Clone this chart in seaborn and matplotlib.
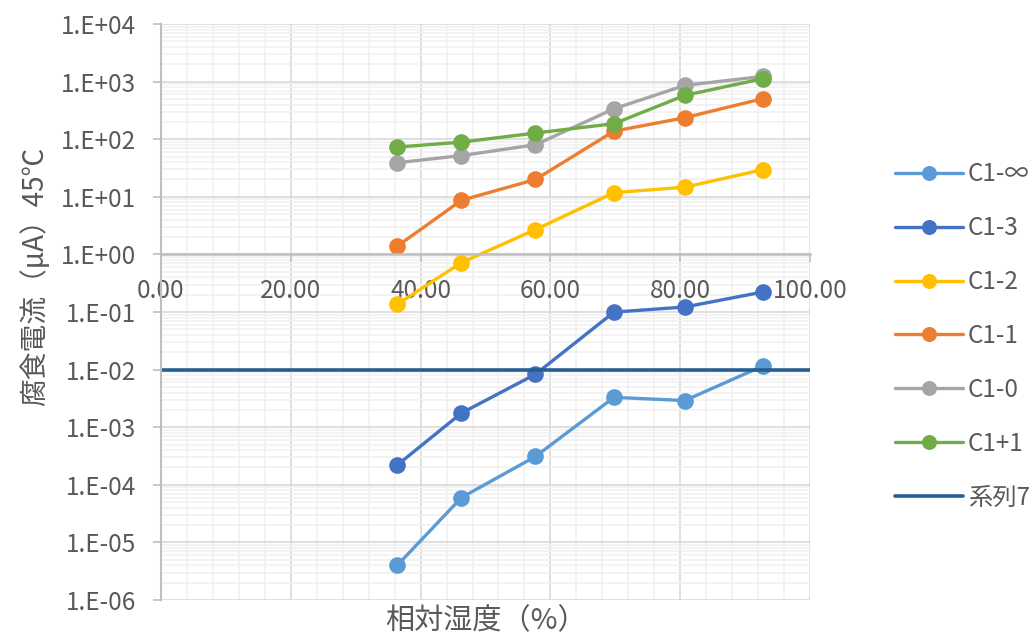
import numpy as np
import pandas as pd
import matplotlib
matplotlib.use("Agg")
import matplotlib.pyplot as plt
import matplotlib.ticker as mticker
import seaborn as sns

# Relative humidity (%) at each measurement
humidity = [36.4, 46.3, 57.7, 69.8, 80.7, 92.7]

# Corrosion current (uA) at 45 C for each sample
c1_inf = [4.0e-6, 6.0e-5, 3.1e-4, 3.3e-3, 2.9e-3, 1.15e-2]
c1_3 = [2.2e-4, 1.76e-3, 8.3e-3, 0.0996, 0.122, 0.222]
c1_2 = [0.136, 0.72, 2.7, 11.8, 14.7, 29.5]
c1_1 = [1.39, 8.7, 20.0, 138.0, 236.0, 505.0]
c1_0 = [39.0, 52.0, 80.0, 338.0, 859.0, 1230.0]
c1_p1 = [73.0, 89.0, 128.0, 186.0, 576.0, 1123.0]

# Reference level (series 7)
ref_x = [0.0, 100.0]
ref_y = [0.01, 0.01]

series_names = ["C1-∞", "C1-3", "C1-2", "C1-1", "C1-0", "C1+1"]
series_values = [c1_inf, c1_3, c1_2, c1_1, c1_0, c1_p1]
series_colors = ["#5B9BD5", "#4472C4", "#FFC000", "#ED7D31", "#A5A5A5", "#70AD47"]
ref_name = "系列7"
ref_color = "#255E91"

x_label = "相対湿度（%）"
y_label = "腐食電流（μA）45℃"

# Axis ranges and tick positions
y_decades = list(range(-6, 5))
x_major_ticks = [0, 20, 40, 60, 80, 100]
x_minor_step = 4

sns.set_style("white")
plt.rcParams["font.family"] = ["Noto Sans CJK JP", "DejaVu Sans"]

text_color = "#595959"
rect = [161 / 1035, 1 - 600 / 640, (810 - 161) / 1035, 576 / 640]

y_major = [10.0 ** e for e in y_decades]
y_minor = [m * 10.0 ** e for e in y_decades[:-1] for m in range(2, 10)]
x_minor = list(np.arange(0, 100 + x_minor_step / 2, x_minor_step))

fig = plt.figure(figsize=(10.35, 6.4), dpi=100)


def set_scales(a):
    a.set_yscale("log")
    a.set_ylim(y_major[0], y_major[-1])
    a.set_xlim(x_major_ticks[0], x_major_ticks[-1])
    a.yaxis.set_major_locator(mticker.FixedLocator(y_major))
    a.yaxis.set_minor_locator(mticker.FixedLocator(y_minor))
    a.yaxis.set_minor_formatter(mticker.NullFormatter())
    a.xaxis.set_major_locator(mticker.FixedLocator(x_major_ticks))
    a.xaxis.set_minor_locator(mticker.FixedLocator(x_minor))
    a.xaxis.set_minor_formatter(mticker.NullFormatter())


# Background axes carries only the gridlines, so tick labels sit above them
grid_ax = fig.add_axes(rect, zorder=0)
set_scales(grid_ax)
grid_ax.grid(which="major", color="#D9D9D9", linewidth=1.2)
grid_ax.grid(which="minor", color="#F0F0F0", linewidth=1.1)
grid_ax.tick_params(which="both", length=0, labelleft=False, labelbottom=False)
for s in grid_ax.spines.values():
    s.set_visible(False)

ax = fig.add_axes(rect, zorder=1)
ax.patch.set_alpha(0)

for name, vals, col in zip(series_names, series_values, series_colors):
    df = pd.DataFrame({"rh": humidity, "current": vals})
    sns.lineplot(data=df, x="rh", y="current", ax=ax, color=col, label=name,
                 marker="o", markersize=12, markeredgewidth=0,
                 linewidth=2.4, sort=False, legend=False)

ref_df = pd.DataFrame({"rh": ref_x, "current": ref_y})
sns.lineplot(data=ref_df, x="rh", y="current", ax=ax, color=ref_color,
             label=ref_name, linewidth=2.6, legend=False)

set_scales(ax)
ax.grid(False)


def sci_fmt(v, pos):
    e = int(round(np.log10(v)))
    return f"1.E{e:+03d}"


ax.yaxis.set_major_formatter(mticker.FuncFormatter(sci_fmt))
ax.xaxis.set_major_formatter(mticker.FuncFormatter(lambda v, p: f"{v:.2f}"))

for s in ["top", "right"]:
    ax.spines[s].set_visible(False)
ax.spines["left"].set_color("#BFBFBF")
ax.spines["left"].set_linewidth(1.5)
ax.spines["bottom"].set_position(("data", 1.0))
ax.spines["bottom"].set_color("#BFBFBF")
ax.spines["bottom"].set_linewidth(1.8)

ax.tick_params(axis="y", which="major", direction="out", length=6, width=1.2,
               color="#BFBFBF", labelsize=17.5, labelcolor=text_color, pad=12, left=True)
ax.tick_params(axis="x", which="major", direction="out", length=6, width=1.2,
               color="#BFBFBF", labelsize=17.5, labelcolor=text_color, pad=11, bottom=True)
ax.tick_params(which="minor", length=0)

ax.set_xlabel(x_label, fontsize=21, color=text_color)
ax.set_ylabel(y_label, fontsize=20, color=text_color)
ax.xaxis.set_label_coords(0.5, -0.036)
ax.xaxis.label.set_va("center")
ax.yaxis.set_label_coords(-0.194, 0.561)
ax.yaxis.label.set_va("center")

handles, labels = ax.get_legend_handles_labels()
leg = fig.legend(handles, labels, loc="center left",
                 bbox_to_anchor=(895 / 1035, 1 - 336 / 640),
                 frameon=False, fontsize=17.5, labelcolor=text_color,
                 handlelength=2.8, handletextpad=0.2, labelspacing=1.15,
                 borderpad=0, borderaxespad=0, markerscale=0.9)

fig.savefig("out.png", dpi=100)
